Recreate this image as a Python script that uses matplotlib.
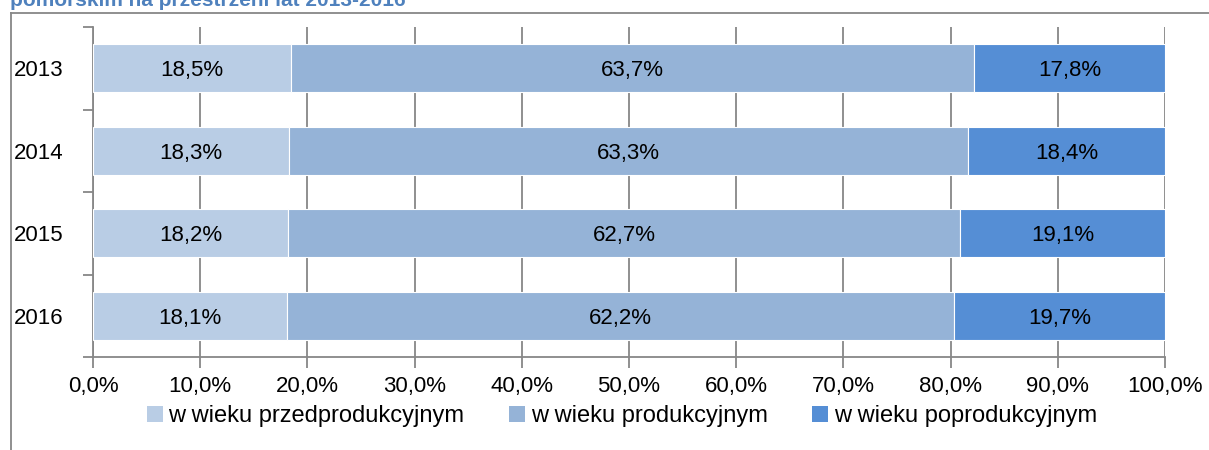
import matplotlib
matplotlib.use('Agg')
import matplotlib.pyplot as plt
from matplotlib.lines import Line2D
from matplotlib.patches import Patch
import numpy as np

plt.rcParams['font.family'] = ['Liberation Sans', 'DejaVu Sans']

years = ['2013', '2014', '2015', '2016']
przed = [18.5, 18.3, 18.2, 18.1]
prod = [63.7, 63.3, 62.7, 62.2]
poprod = [17.8, 18.4, 19.1, 19.7]
series_names = ['w wieku przedprodukcyjnym', 'w wieku produkcyjnym', 'w wieku poprodukcyjnym']
colors = ['#B9CDE5', '#95B3D7', '#558ED5']
xticks = [0, 10, 20, 30, 40, 50, 60, 70, 80, 90, 100]

fs = 16

fig = plt.figure(figsize=(12.09, 4.5), dpi=100)
ax = fig.add_axes([93/1209, 1 - 357/450, (1165 - 93)/1209, (357 - 27)/450])

y = np.arange(len(years))
left = np.zeros(len(years))
for vals, name, c in zip([przed, prod, poprod], series_names, colors):
    vals = np.array(vals)
    ax.barh(y, vals, left=left, height=0.58, color=c, edgecolor='white', linewidth=0.8, label=name, zorder=3)
    for yi, l, v in zip(y, left, vals):
        ax.text(l + v / 2, yi, f'{v:.1f}%'.replace('.', ','), ha='center', va='center_baseline',
                fontsize=fs, zorder=4)
    left = left + vals

ax.set_xlim(0, 100)
ax.set_ylim(len(years) - 0.5, -0.5)
ax.set_xticks(xticks)
ax.set_xticklabels([f'{t:.1f}%'.replace('.', ',') for t in xticks], fontsize=fs)
ax.set_yticks(y)
ax.set_yticklabels(years, fontsize=fs)
ax.set_yticks(np.arange(-0.5, len(years)), minor=True)
ax.tick_params(axis='y', which='major', length=0, pad=21)
ax.tick_params(axis='y', which='minor', length=7, width=1.3, color='#878787')
ax.tick_params(axis='x', which='major', length=8, width=1.3, color='#878787', pad=6)
ax.grid(axis='x', color='#878787', linewidth=1.3, zorder=0)
for s in ['top', 'right']:
    ax.spines[s].set_visible(False)
for s in ['left', 'bottom']:
    ax.spines[s].set_color('#878787')
    ax.spines[s].set_linewidth(1.3)

handles = [Patch(facecolor=c, edgecolor='none') for c in colors]
fig.legend(handles, series_names, loc='center', bbox_to_anchor=(622/1209, 1 - 416/450), ncol=3,
           frameon=False, fontsize=17, handlelength=0.65, handleheight=0.65, handletextpad=0.25,
           columnspacing=1.9, borderpad=0)

# outer chart frame (only left and top visible)
fig.add_artist(Line2D([11/1209, 11/1209], [0, 1 - 13/450], transform=fig.transFigure, color='#878787', linewidth=1.3))
fig.add_artist(Line2D([11/1209, 1], [1 - 13/450, 1 - 13/450], transform=fig.transFigure, color='#878787', linewidth=1.3))

fig.text(10/1209, 1 - 6.5/450, 'pomorskim na przestrzeni lat 2013-2016', color='#4F81BD', fontsize=15,
         fontweight='bold', ha='left', va='baseline')

fig.savefig('out.png', dpi=100)
